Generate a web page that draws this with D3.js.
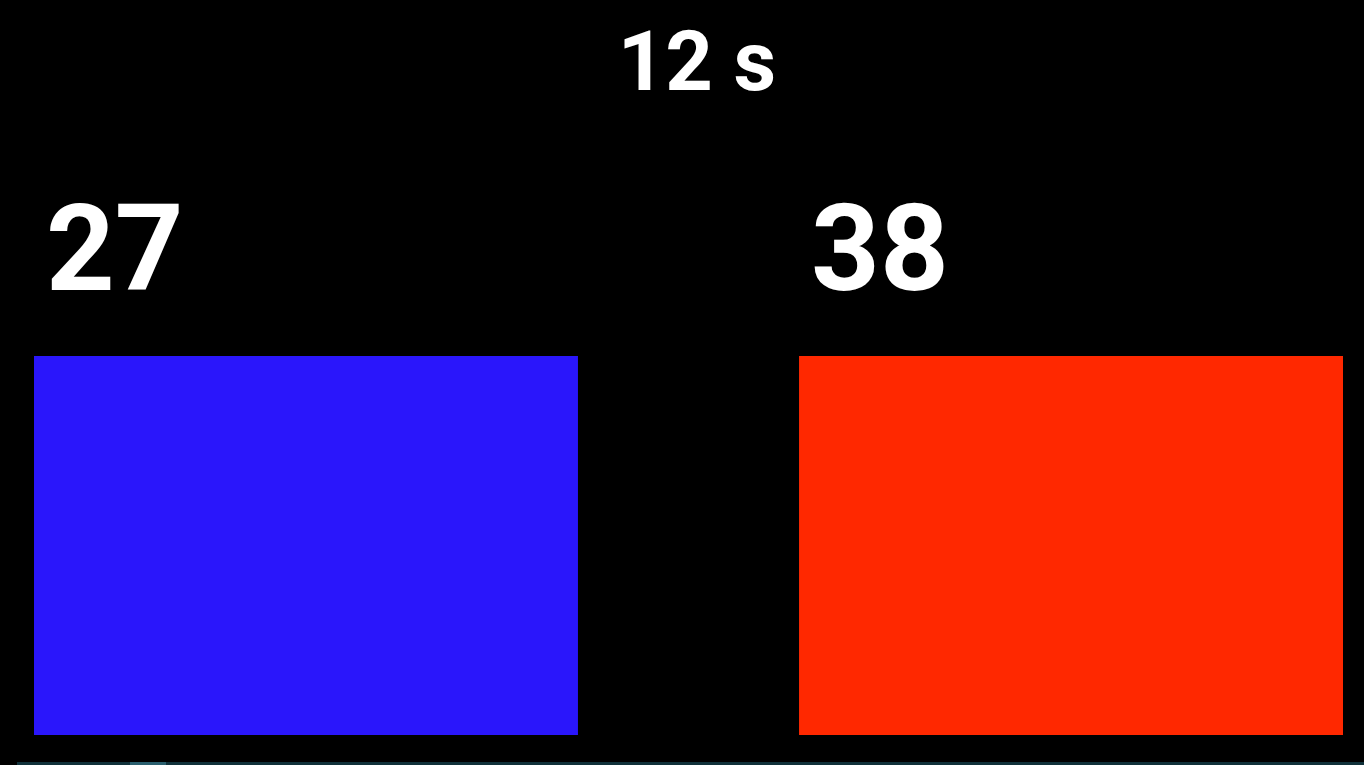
<!DOCTYPE html>
<html>
<head>
<meta charset="utf-8">
<script src="https://cdn.jsdelivr.net/npm/d3@7"></script>
<style>
  html, body { margin: 0; padding: 0; background: #000; }
  svg { display: block; }
</style>
</head>
<body>
<svg id="chart" width="1364" height="765"></svg>
<script>
// Data
const title = "12 s";
const categories = ["left", "right"];
const values = [27, 38];
const colors = ["#2a16fb", "#ff2800"];

const W = 1364, H = 765;
const svg = d3.select("#chart");
svg.append("rect").attr("width", W).attr("height", H).attr("fill", "#000");

const x = d3.scaleBand().domain(categories).range([34, 1343]).paddingInner(0.289).paddingOuter(0);
const y = d3.scaleLinear().domain([0, 1]).range([735, 356]);

// title
svg.append("text")
  .attr("x", W / 2 + 15)
  .attr("y", 90)
  .attr("text-anchor", "middle")
  .attr("font-family", "Roboto")
  .attr("font-weight", 700)
  .attr("font-size", 83)
  .attr("fill", "#fff")
  .text(title);

const g = svg.selectAll("g.bar").data(categories).join("g").attr("class", "bar");

g.append("rect")
  .attr("x", d => x(d))
  .attr("y", y(1))
  .attr("width", x.bandwidth())
  .attr("height", y(0) - y(1))
  .attr("fill", (d, i) => colors[i]);

g.append("text")
  .attr("x", d => x(d) + 12)
  .attr("y", 290)
  .attr("font-family", "Roboto")
  .attr("font-weight", 700)
  .attr("font-size", 120)
  .attr("fill", "#fff")
  .text((d, i) => values[i]);

// bottom progress line
svg.append("rect").attr("x", 17).attr("y", 762).attr("width", W - 17).attr("height", 3).attr("fill", "#10313a");
svg.append("rect").attr("x", 130).attr("y", 762).attr("width", 36).attr("height", 3).attr("fill", "#2a5f6e");
</script>
</body>
</html>
